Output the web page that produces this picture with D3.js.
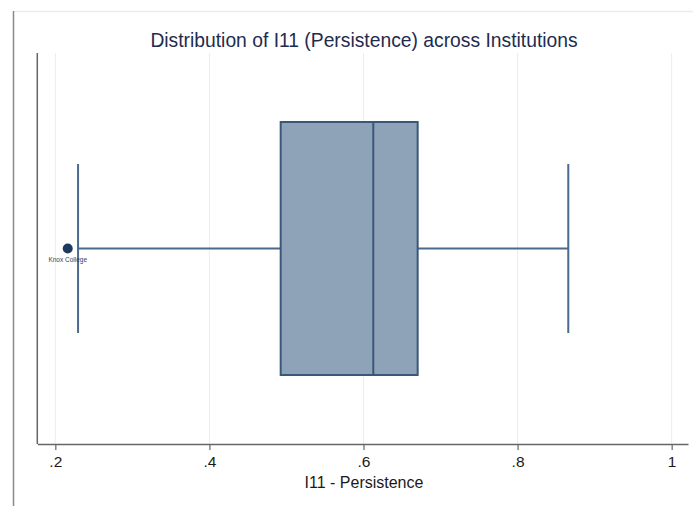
<!DOCTYPE html>
<html>
<head>
<meta charset="utf-8">
<script src="https://cdn.jsdelivr.net/npm/d3@7"></script>
<style>
  html, body { margin: 0; padding: 0; background: #ffffff; }
  svg { display: block; font-family: "Liberation Sans", Arial, Helvetica, sans-serif; }
</style>
</head>
<body>
<svg id="chart" width="693" height="506"></svg>
<script>
// Five-number summary of I11 (Persistence) across institutions
const categories = ["I11 - Persistence"];
const whiskerLow = [0.2295];
const quartile1 = [0.4925];
const medians = [0.6127];
const quartile3 = [0.6703];
const whiskerHigh = [0.8658];
// Outside values, labelled by institution
const outlierNames = ["Knox College"];
const outlierValues = [0.2161];
const tickValues = [0.2, 0.4, 0.6, 0.8, 1.0];

const svg = d3.select("#chart");
const W = 693, H = 506;

// Frame of the graph region
svg.append("line")
  .attr("x1", 14).attr("x2", W).attr("y1", 11.5).attr("y2", 11.5)
  .attr("stroke", "#e6efec").attr("stroke-width", 1.5);
svg.append("line")
  .attr("x1", 13.5).attr("x2", 13.5).attr("y1", 11).attr("y2", H)
  .attr("stroke", "#8a8a8a").attr("stroke-width", 1.5);

const plotTop = 53, plotBottom = 444;
const x = d3.scaleLinear().domain([0.1766, 1.0212]).range([37.3, 688]);
const y = d3.scaleBand().domain(categories).range([122, 375]).padding(0);

// Vertical grid lines
svg.append("g").selectAll("line")
  .data(tickValues)
  .join("line")
  .attr("x1", d => x(d)).attr("x2", d => x(d))
  .attr("y1", plotTop).attr("y2", plotBottom)
  .attr("stroke", "#e7eef1").attr("stroke-width", 1);

// Y axis line (no labels)
svg.append("line")
  .attr("x1", x.range()[0]).attr("x2", x.range()[0])
  .attr("y1", plotTop).attr("y2", plotBottom)
  .attr("stroke", "#666666").attr("stroke-width", 1.5);

// X axis
const fmt = d => d === 1 ? "1" : d3.format(".1f")(d).replace(/^0/, "");
const xAxis = svg.append("g")
  .attr("transform", `translate(0,${plotBottom})`)
  .call(d3.axisBottom(x).tickValues(tickValues).tickFormat(fmt)
    .tickSizeInner(6).tickSizeOuter(0).tickPadding(6));
xAxis.select(".domain").attr("stroke", "#666666").attr("stroke-width", 1.5);
xAxis.selectAll(".tick line").attr("stroke", "#666666").attr("stroke-width", 1.2);
xAxis.selectAll(".tick text")
  .attr("fill", "#1a1a1a")
  .style("font-size", "15.5px");

// Axis title
svg.append("text")
  .attr("x", (x(0.2) + x(1)) / 2 + 0.5)
  .attr("y", 488)
  .attr("text-anchor", "middle")
  .attr("fill", "#1a1a1a")
  .style("font-size", "16px")
  .text("I11 - Persistence");

// Chart title
svg.append("text")
  .attr("x", 364)
  .attr("y", 47)
  .attr("text-anchor", "middle")
  .attr("fill", "#1f2b4e")
  .style("font-size", "19.3px")
  .text("Distribution of I11 (Persistence) across Institutions");

// Box plot
const boxColor = "#8fa3b8";
const lineColor = "#4a698c";
const edgeColor = "#3a5679";

const g = svg.append("g");
categories.forEach((c, i) => {
  const y0 = y(c), bw = y.bandwidth(), cy = y0 + bw / 2;
  const capHalf = bw * 0.334;

  // whiskers
  g.append("line")
    .attr("x1", x(whiskerLow[i])).attr("x2", x(quartile1[i]))
    .attr("y1", cy).attr("y2", cy)
    .attr("stroke", lineColor).attr("stroke-width", 2);
  g.append("line")
    .attr("x1", x(quartile3[i])).attr("x2", x(whiskerHigh[i]))
    .attr("y1", cy).attr("y2", cy)
    .attr("stroke", lineColor).attr("stroke-width", 2);
  [whiskerLow[i], whiskerHigh[i]].forEach(v => {
    g.append("line")
      .attr("x1", x(v)).attr("x2", x(v))
      .attr("y1", cy - capHalf).attr("y2", cy + capHalf)
      .attr("stroke", lineColor).attr("stroke-width", 2);
  });

  // box
  g.append("rect")
    .attr("x", x(quartile1[i])).attr("y", y0)
    .attr("width", x(quartile3[i]) - x(quartile1[i]))
    .attr("height", bw)
    .attr("fill", boxColor)
    .attr("stroke", edgeColor).attr("stroke-width", 2);

  // median
  g.append("line")
    .attr("x1", x(medians[i])).attr("x2", x(medians[i]))
    .attr("y1", y0).attr("y2", y0 + bw)
    .attr("stroke", edgeColor).attr("stroke-width", 2);

  // outliers with labels
  outlierValues.forEach((v, k) => {
    g.append("circle")
      .attr("cx", x(v)).attr("cy", cy).attr("r", 5)
      .attr("fill", "#1c3b5e");
    g.append("text")
      .attr("x", x(v)).attr("y", cy + 13)
      .attr("text-anchor", "middle")
      .attr("fill", "#2b4368")
      .style("font-size", "6.5px")
      .text(outlierNames[k]);
  });
});
</script>
</body>
</html>
